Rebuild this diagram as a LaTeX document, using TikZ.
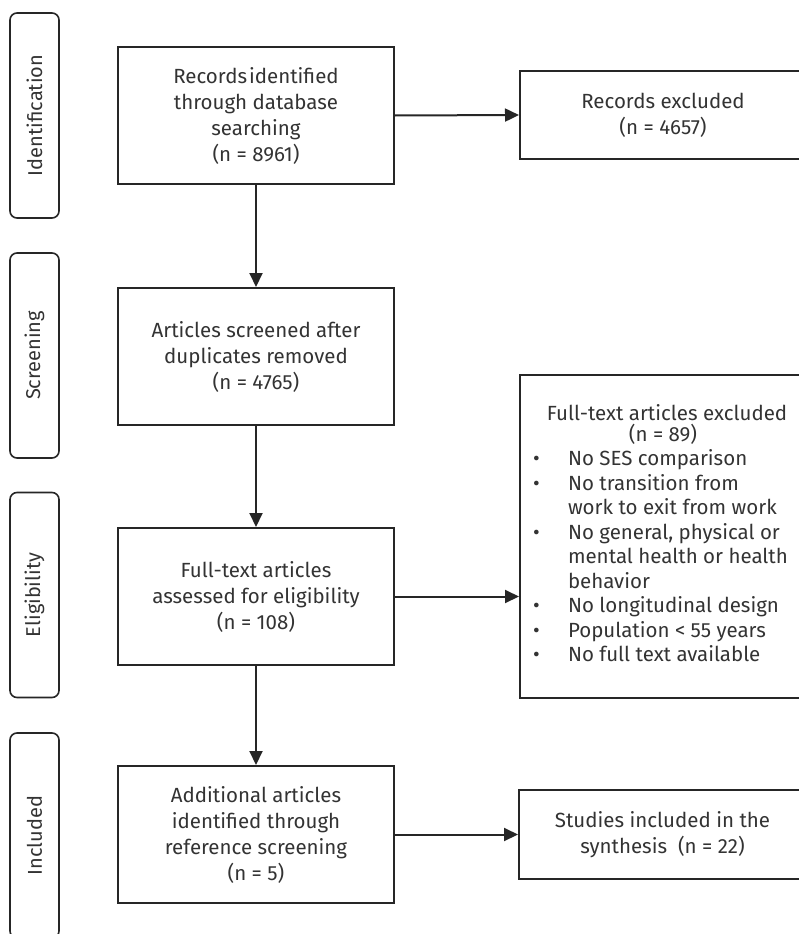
\documentclass[tikz,border=0pt]{standalone}
\usepackage{fontspec}
\setmainfont{Fira Sans}
\usepackage{array}
\usetikzlibrary{arrows.meta}
\definecolor{inkline}{HTML}{262626}
\definecolor{inktext}{HTML}{333333}
\tikzset{
  flowbox/.style={draw=inkline, line width=2pt, rectangle, align=center,
    text=inktext, font=\fontsize{20.5}{26}\selectfont, inner sep=0pt},
  stagebox/.style={draw=inkline, line width=1.6pt, rectangle, rounded corners=7pt,
    minimum width=49pt, minimum height=205pt, inner sep=0pt},
  stagelabel/.style={rotate=90, text=inktext, font=\fontsize{20}{22}\selectfont},
  flowarrow/.style={draw=inkline, line width=2pt,
    -{Triangle[length=14pt,width=13pt]}},
}
\begin{document}
\begin{tikzpicture}[x=1pt,y=-1pt]
\clip (0,0) rectangle (799,934);
\useasboundingbox (0,0) rectangle (799,934);

% stage labels on the left
\node[stagebox] (sid) at (34.5,115.5) {};
\node[stagelabel] (sidt) at (sid.center) {Identification};
\node[stagebox] (ssc) at (34.5,355.5) {};
\node[stagelabel] (ssct) at (ssc.center) {Screening};
\node[stagebox] (sel) at (34.5,595) {};
\node[stagelabel] (selt) at (sel.center) {Eligibility};
\node[stagebox] (sin) at (34.5,835.5) {};
\node[stagelabel] (sint) at (sin.center) {Included};

% main column
\node[flowbox, minimum width=276pt, minimum height=137pt] (ident) at (256,115.5)
  {Records\hspace{2pt}identified\\through database\\searching\\(n = 8961)};
\node[flowbox, minimum width=276pt, minimum height=137pt] (screen) at (256,356.5)
  {Articles screened after\\duplicates removed\\(n = 4765)};
\node[flowbox, minimum width=276pt, minimum height=137pt] (elig) at (256,596.5)
  {Full-text articles\\assessed for eligibility\\(n = 108)};
\node[flowbox, minimum width=276pt, minimum height=137pt] (incl) at (256,834.5)
  {Additional articles\\identified through\\reference screening\\(n = 5)};

% right column
\node[flowbox, minimum width=286pt, minimum height=88pt] (excl) at (663,115)
  {Records excluded\\(n = 4657)};
\node[flowbox, minimum width=286pt, minimum height=323pt,
      font=\fontsize{20.5}{24.5}\selectfont] (ftex) at (663,536.5)
  {\begin{tabular}{@{}p{38pt}@{}p{228pt}@{}}
    \multicolumn{2}{@{}c@{}}{\hspace{8pt}Full-text articles excluded}\\[-4pt]
    \multicolumn{2}{@{}c@{}}{(n = 89)}\\
    \hspace{3pt}\textbullet & No SES comparison\\
    \hspace{3pt}\textbullet & No transition from\\
     & work to exit from work\\
    \hspace{3pt}\textbullet & No general, physical or\\
     & mental health or health\\
     & behavior\\
    \hspace{3pt}\textbullet & No longitudinal design\\
    \hspace{3pt}\textbullet & Population < 55 years\\
    \hspace{3pt}\textbullet & No full text available
  \end{tabular}};
\node[flowbox, minimum width=287pt, minimum height=89pt] (synth) at (662.5,834.5)
  {Studies included in the\\synthesis\ \ (n = 22)};

% connectors
\draw[flowarrow] (ident) -- (screen);
\draw[flowarrow] (screen) -- (elig);
\draw[flowarrow] (elig) -- (incl);
\draw[flowarrow] (ident.east) -- (excl.west);
\draw[flowarrow] (elig.east) -- (elig.east -| ftex.west);
\draw[flowarrow] (incl.east) -- (synth.west);
\end{tikzpicture}
\end{document}
